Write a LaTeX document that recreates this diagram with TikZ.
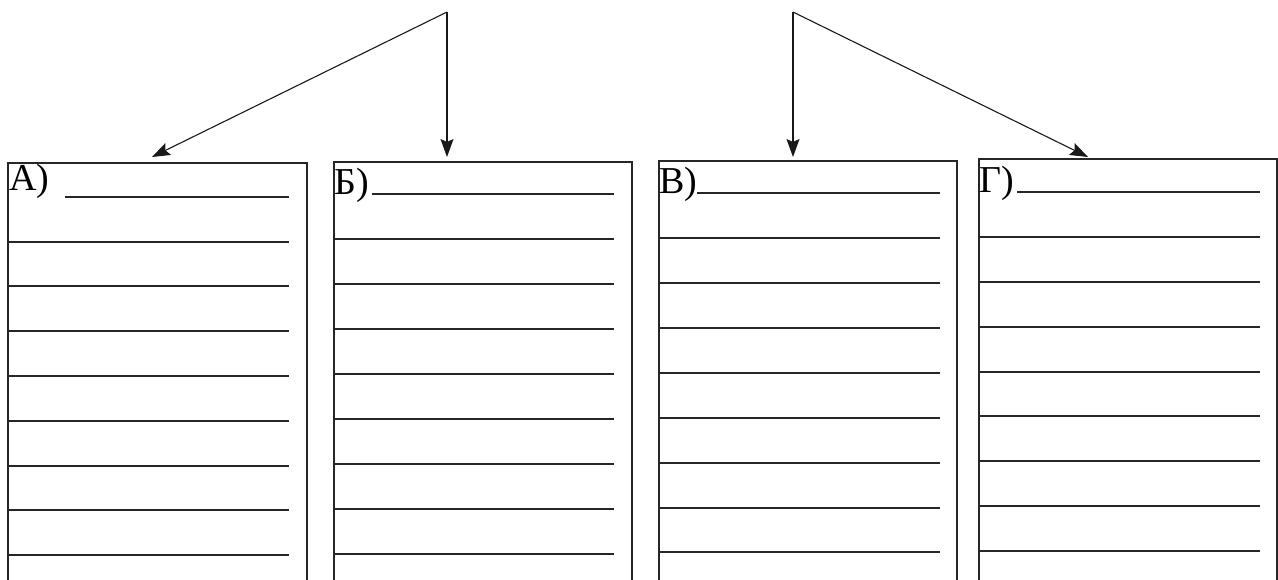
\documentclass[tikz,border=0pt]{standalone}
\usepackage{fontspec}
\setmainfont{Liberation Serif}
\newfontfamily\labfont{Liberation Serif}
\usetikzlibrary{arrows.meta}
\begin{document}
\begin{tikzpicture}[x=1pt,y=-1pt,
  boxside/.style={draw=black!85,line width=1.3pt},
  rule/.style={draw=black!85,line width=2pt},
  arr/.style={draw=black!90,line width=1.1pt,-{Stealth[length=18pt,width=13pt,inset=3pt]}},
  lab/.style={anchor=base west,inner sep=0pt,font=\labfont\fontsize{38}{38}\selectfont}]
\useasboundingbox (0,0) rectangle (1278,579);
% apexes and arrow targets
\coordinate (apL) at (447,12);
\coordinate (apR) at (793,12);
\coordinate (tA) at (152,157);
\coordinate (tB) at (447,157);
\coordinate (tC) at (793,157);
\coordinate (tD) at (1088,157);
\draw[arr] (apL) -- (tA);
\draw[arr] (apL) -- (tB);
\draw[arr] (apR) -- (tC);
\draw[arr] (apR) -- (tD);
% boxes (open at bottom)
\draw[boxside] (8,580) -- (8,163) -- (307,163) -- (307,580);
\draw[boxside] (334,580) -- (334,162) -- (632,162) -- (632,580);
\draw[boxside] (659,580) -- (659,161) -- (957,161) -- (957,580);
\draw[boxside] (979,580) -- (979,159) -- (1277,159) -- (1277,580);
% labels
\node[lab] (la) at (9,190) {А)};
\node[lab] (lb) at (334,194) {Б)};
\node[lab] (lc) at (659,193) {В)};
\node[lab] (ld) at (979,192) {Г)};
% ruled lines
\draw[rule] (65,197) -- (289,197);
\foreach \y in {242,286,331,376,421,466,510,555} \draw[rule] (8,\y) -- (289,\y);
\draw[rule] (372,194) -- (614,194);
\foreach \y in {239,284,329,374,419,464,509,554} \draw[rule] (334,\y) -- (614,\y);
\draw[rule] (697,193) -- (940,193);
\foreach \y in {238,283,328,373,418,463,508,552} \draw[rule] (659,\y) -- (940,\y);
\draw[rule] (1017,192) -- (1260,192);
\foreach \y in {237,282,327,372,416,461,506,551} \draw[rule] (979,\y) -- (1260,\y);
\end{tikzpicture}
\end{document}
